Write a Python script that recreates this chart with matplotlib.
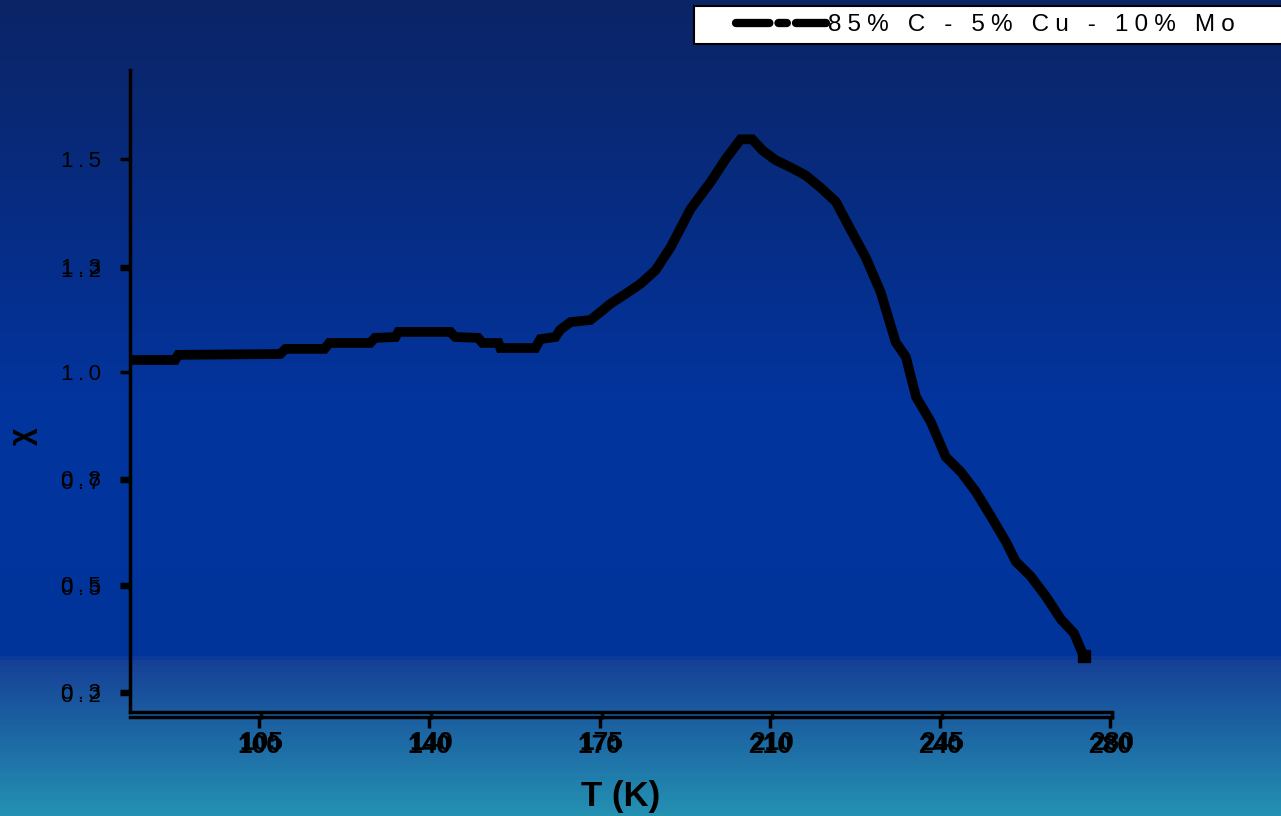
import numpy as np
import matplotlib
matplotlib.use('Agg')
import matplotlib.pyplot as plt
from matplotlib.lines import Line2D
from matplotlib.patches import Rectangle
from matplotlib.colors import LinearSegmentedColormap

plt.rcParams['font.family'] = ['Liberation Sans', 'DejaVu Sans']

# Susceptibility vs temperature for the 85% C - 5% Cu - 10% Mo sample
T = [78, 87.3, 87.9, 108.9, 110, 118, 119, 127.4, 128.4, 132.6, 133.2, 143.9,
     144.9, 149.6, 150.5, 153.8, 154.2, 161.4, 162.4, 165.5, 166.5, 168.6, 172.7,
     174.8, 176.8, 179.9, 183, 186.1, 189.2, 193.3, 197.4, 200.5, 203.6, 206,
     208.1, 210.8, 213.9, 217, 220, 223.2, 226.3, 229.3, 232.4, 235.5, 237.6,
     239.7, 242.7, 245.8, 248.9, 252, 255.1, 258.2, 260.2, 263.3, 266.4, 269.5,
     272.2, 274.2]
chi = [1.028, 1.028, 1.04, 1.042, 1.054, 1.054, 1.068, 1.068, 1.08, 1.082, 1.094,
       1.094, 1.082, 1.08, 1.068, 1.068, 1.056, 1.056, 1.077, 1.082, 1.099, 1.117,
       1.122, 1.141, 1.16, 1.183, 1.207, 1.239, 1.293, 1.383, 1.446, 1.5, 1.547,
       1.547, 1.521, 1.498, 1.481, 1.462, 1.434, 1.4, 1.333, 1.27, 1.188, 1.07,
       1.035, 0.941, 0.883, 0.8, 0.765, 0.718, 0.66, 0.6, 0.554, 0.519, 0.472,
       0.418, 0.385, 0.331]

series_label = '85% C - 5% Cu - 10% Mo'

x_ticks = [105, 140, 175, 210, 245, 280]
x_labels = ['105', '140', '175', '210', '245', '280']
x_labels_b = ['100', '140', '170', '210', '240', '280']
y_ticks = [0.25, 0.5, 0.75, 1.0, 1.25, 1.5]
y_labels = ['0.3', '0.5', '0.8', '1.0', '1.3', '1.5']
y_ticks_b = [0.243, 0.493, 0.743, 1.243]
y_labels_b = ['0.2', '0.5', '0.7', '1.2']

fig = plt.figure(figsize=(12.81, 8.16), dpi=100)

# gradient backdrop
bg = fig.add_axes([0, 0, 1, 1], zorder=-10)
bg.axis('off')
cmap = LinearSegmentedColormap.from_list('bg', [
    (0.0, (11/255, 36/255, 102/255)),
    (0.5, (3/255, 52/255, 158/255)),
    (0.805, (0/255, 52/255, 155/255)),
    (0.81, (22/255, 64/255, 150/255)),
    (1.0, (36/255, 144/255, 178/255))])
grad = np.linspace(0, 1, 816).reshape(-1, 1)
bg.imshow(grad, aspect='auto', cmap=cmap, extent=[0, 1, 1, 0])

ax = fig.add_axes([130/1281, 104/816, 982/1281, 642/816])
ax.set_facecolor('none')
ax.plot(T, chi, color='black', lw=7, solid_joinstyle='miter',
        marker='s', markersize=9, markevery=[len(T) - 1], zorder=3)

ax.set_xlim(78, 280)
ax.set_ylim(0.2, 1.71)
for s in ['top', 'right']:
    ax.spines[s].set_visible(False)
ax.spines['left'].set_linewidth(2.5)
ax.spines['bottom'].set_linewidth(2.5)

thin = '\u2009'
ax.set_xticks(x_ticks)
ax.set_xticklabels(x_labels, fontsize=19, fontweight='bold')
ax.tick_params(axis='x', direction='out', length=5, width=2.5, pad=9)
ax.set_yticks(y_ticks)
ax.set_yticklabels([thin.join(l) for l in y_labels], fontsize=16)
ax.tick_params(axis='y', direction='out', length=7, width=2.5, pad=14)

# second overlapping axis set
secx = ax.secondary_xaxis(-0.008)
secx.spines['bottom'].set_linewidth(2.5)
secx.set_xticks(np.array(x_ticks) - 0.4)
secx.set_xticklabels(x_labels_b, fontsize=19, fontweight='bold')
secx.tick_params(axis='x', direction='out', length=8, width=2.5, pad=4)

secy = ax.secondary_yaxis(0)
secy.spines['left'].set_visible(False)
secy.set_yticks(y_ticks_b)
secy.set_yticklabels([thin.join(l) for l in y_labels_b], fontsize=16)
secy.tick_params(axis='y', direction='out', length=7, width=2.5, pad=14)

ax.set_xlabel('T (K)', fontsize=25, fontweight='bold', labelpad=18)
ax.set_ylabel('χ', fontsize=22, fontweight='bold')
ax.yaxis.set_label_coords(-0.094, 0.43)

# legend box running off the right edge
fig.patches.append(Rectangle((694/1281, 1 - 44/816), 600/1281, 38/816,
                             transform=fig.transFigure, facecolor='white',
                             edgecolor='black', lw=1.5, zorder=5))
handle = Line2D([], [], color='black', lw=6, ls=(0, (4.0, 1.1, 1, 1.1)),
                solid_capstyle='round', dash_capstyle='round')
spaced = '\u2005'.join(series_label)
leg = fig.legend([handle], [spaced], loc='center left',
                 bbox_to_anchor=(736/1281, 1 - 25/816), fontsize=17.5,
                 handlelength=3.7, handletextpad=0.1, borderpad=0,
                 borderaxespad=0, frameon=False)
leg.set_zorder(6)

fig.savefig('out.png', dpi=100)
